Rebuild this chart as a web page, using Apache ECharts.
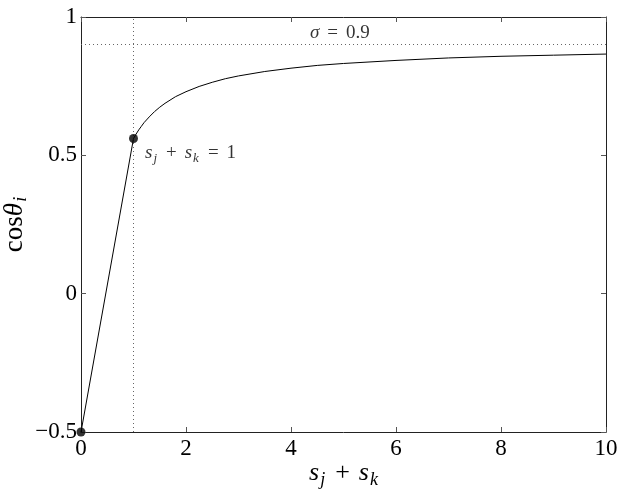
<!DOCTYPE html>
<html><head><meta charset="utf-8">
<script src="https://cdn.jsdelivr.net/npm/echarts@6/dist/echarts.min.js"></script>
<style>html,body{margin:0;padding:0;background:#fff}#c{width:623px;height:489px}</style>
</head><body><div id="c"></div>
<script>
// data
const xTicks = [0, 2, 4, 6, 8, 10];
const yTicks = [-0.5, 0, 0.5, 1];
const segX = [0, 1];
const segY = [-0.5, 0.561];
const curveX = [1, 1.05, 1.1, 1.15, 1.2, 1.3, 1.4, 1.5, 1.6, 1.8, 2, 2.25, 2.5, 2.75, 3, 3.5, 4, 4.5, 5, 6, 7, 8, 9, 10];
const curveY = [0.561, 0.577, 0.592, 0.605, 0.618, 0.639, 0.658, 0.674, 0.688, 0.712, 0.730, 0.749, 0.764, 0.777, 0.787, 0.803, 0.815, 0.825, 0.832, 0.843, 0.852, 0.858, 0.862, 0.866];
const dotX = [0, 1];
const dotY = [-0.5, 0.561];
const sigmaLevel = 0.9;
const knotX = 1;
const sigmaLabelPos = [4.93, 0.94];
const xTitle = '{i|s}{sub|j}{op|+}{i|s}{sub|k}';
const yTitle = '{n|cos}{i|θ}{sub|i}';

const serif = 'Liberation Serif';
const mathRich = (size, opPad) => ({
  i: {fontFamily: serif, fontStyle: 'italic', fontSize: size, fill: '#000', color: '#000', verticalAlign: 'top', lineHeight: size + 2},
  n: {fontFamily: serif, fontSize: size, fill: '#000', color: '#000', verticalAlign: 'top', lineHeight: size + 2},
  op: {fontFamily: serif, fontSize: size, fill: '#000', color: '#000', verticalAlign: 'top', lineHeight: size + 2, padding: [0, opPad, 0, opPad]},
  sub: {fontFamily: serif, fontStyle: 'italic', fontSize: Math.round(size * 0.68), fill: '#000', color: '#000', verticalAlign: 'top',
        lineHeight: Math.round(size * 1.0), padding: [Math.round(size * 0.42), 1, 0, 1]}
});

const chart = echarts.init(document.getElementById('c'), null, {renderer: 'canvas'});
const axisCommon = {
  type: 'value',
  axisLine: {show: true, onZero: false, lineStyle: {color: '#222', width: 1}},
  axisTick: {show: true, inside: true, length: 5, lineStyle: {color: '#555', width: 1}},
  splitLine: {show: false},
};
const fmt = v => (v < 0 ? '\u2212' + Math.abs(v) : String(v));
chart.setOption({
  animation: false,
  backgroundColor: '#fff',
  grid: {left: 81, right: 17, top: 17, bottom: 57, containLabel: false, outerBoundsMode: 'none'},
  graphic: [
    {type: 'text', x: 344, y: 460, z: 10,
     style: {text: xTitle, rich: mathRich(26, 9), fill: '#000', align: 'center', verticalAlign: 'top'}},
    {type: 'text', x: 1, y: 224, rotation: Math.PI / 2, z: 10,
     style: {text: yTitle, rich: mathRich(27, 0), fill: '#000', align: 'center', verticalAlign: 'top'}}
  ],
  xAxis: [
    Object.assign({}, axisCommon, {
      min: xTicks[0], max: xTicks[xTicks.length - 1], interval: 2, position: 'bottom',
      axisLabel: {show: true, margin: 5, fontFamily: serif, fontSize: 23, color: '#000', formatter: fmt}
    }),
    Object.assign({}, axisCommon, {
      min: xTicks[0], max: xTicks[xTicks.length - 1], interval: 2, position: 'top',
      axisLabel: {show: false}
    })
  ],
  yAxis: [
    Object.assign({}, axisCommon, {
      min: yTicks[0], max: yTicks[yTicks.length - 1], interval: 0.5, position: 'left',
      axisLabel: {show: true, margin: 4, fontFamily: serif, fontSize: 23, color: '#000', formatter: fmt}
    }),
    Object.assign({}, axisCommon, {
      min: yTicks[0], max: yTicks[yTicks.length - 1], interval: 0.5, position: 'right',
      axisLabel: {show: false}
    })
  ],
  series: [
    {
      type: 'line', data: segX.map((x, i) => [x, segY[i]]), symbol: 'none',
      lineStyle: {color: '#000', width: 1}, z: 3,
      markLine: {
        silent: true, symbol: 'none', label: {show: false},
        lineStyle: {color: '#666', type: [1, 3], width: 1},
        data: [{xAxis: knotX}, {yAxis: sigmaLevel}]
      }
    },
    {
      type: 'line', data: curveX.map((x, i) => [x, curveY[i]]), symbol: 'none', smooth: false,
      lineStyle: {color: '#000', width: 1}, z: 3
    },
    {
      type: 'scatter', clip: false, symbolSize: 9, itemStyle: {color: '#000'}, z: 5,
      data: dotX.map((x, i) => ({
        value: [x, dotY[i]],
        label: i === 1 ? {
          show: true, position: 'right', offset: [2, 16],
          formatter: '{i|s}{sub|j}{op|+}{i|s}{sub|k}{op|=}{n|1}',
          rich: mathRich(19, 8)
        } : {show: false}
      }))
    },
    {
      type: 'scatter', symbol: 'circle', symbolSize: 1, silent: true, z: 6,
      itemStyle: {color: 'rgba(0,0,0,0)'},
      data: [{value: sigmaLabelPos}],
      label: {show: true, position: 'inside', formatter: '{i|σ}{op|=}{n|0.9}', rich: mathRich(19, 8)}
    }
  ]
});
</script></body></html>
